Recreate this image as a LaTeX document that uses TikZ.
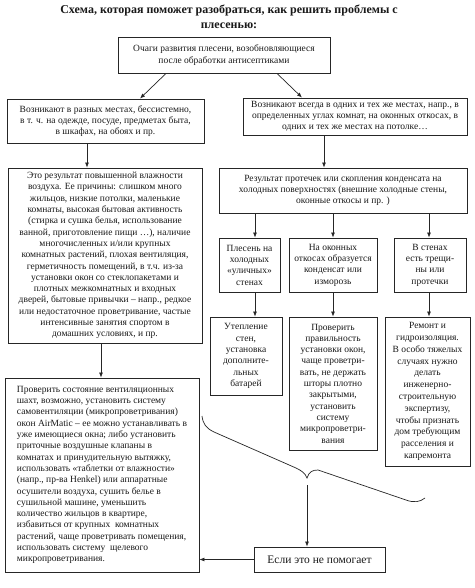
\documentclass[tikz,border=0pt]{standalone}
\usepackage{fontspec}
\setmainfont{Liberation Serif}
\usetikzlibrary{arrows.meta}
\begin{document}
\begin{tikzpicture}[x=1pt,y=-1pt,
    box/.style={draw=black!85,line width=0.9pt,align=center,inner sep=2pt,text=black!90,font=\fontsize{9.5}{11.3}\selectfont},
    arr/.style={draw=black!85,line width=0.7pt,-{Latex[length=5pt,width=4pt]}}]
    \useasboundingbox[fill=white] (0,0) rectangle (474,588);
    \node[font=\bfseries\fontsize{12}{14.5}\selectfont,align=center,text=black!90] (title) at (229,17) {Схема, которая поможет разобраться, как решить проблемы с\\плесенью:};
    \node[box,minimum width=212,minimum height=36] (ochagi) at (224,55) {Очаги развития плесени, возобновляющиеся\\после обработки антисептиками};
    \node[box,minimum width=197,minimum height=44] (raznye) at (105.5,121) {Возникают в разных местах, бессистемно,\\в т. ч. на одежде, посуде, предметах быта,\\в шкафах, на обоях и пр.};
    \node[box,minimum width=224,minimum height=37] (odni) at (355,116.5) {Возникают всегда в одних и тех же местах, напр., в\\определенных углах комнат, на оконных откосах, в\\одних и тех же местах на потолке…};
    \node[box,minimum width=194,minimum height=175] (vlazhnost) at (105,255.5) {Это результат повышенной влажности\\воздуха. Ее причины: слишком много\\жильцов, низкие потолки, маленькие\\комнаты, высокая бытовая активность\\(стирка и сушка белья, использование\\ванной, приготовление пищи …), наличие\\многочисленных и/или крупных\\комнатных растений, плохая вентиляция,\\герметичность помещений, в т.ч. из-за\\установки окон со стеклопакетами и\\плотных межкомнатных и входных\\дверей, бытовые привычки – напр., редкое\\или недостаточное проветривание, частые\\интенсивные занятия спортом в\\домашних условиях, и пр.};
    \node[box,align=left,minimum width=194,minimum height=194] (proverit) at (102,475) {Проверить состояние вентиляционных\\шахт, возможно, установить систему\\самовентиляции (микропроветривания)\\окон AirMatic – ее можно устанавливать в\\уже имеющиеся окна; либо установить\\приточные воздушные клапаны в\\комнатах и принудительную вытяжку,\\использовать «таблетки от влажности»\\(напр., пр-ва Henkel) или аппаратные\\осушители воздуха, сушить белье в\\сушильной машине, уменьшить\\количество жильцов в квартире,\\избавиться от крупных\ \ комнатных\\растений, чаще проветривать помещения,\\использовать систему\ \ щелевого\\микропроветривания.};
    \node[box,minimum width=248,minimum height=45] (protechki) at (343,190.5) {Результат протечек или скопления конденсата на\\холодных поверхностях (внешние холодные стены,\\оконные откосы и пр. )};
    \node[box,minimum width=61,minimum height=54] (steny) at (249.5,265) {Плесень на\\холодных\\«уличных»\\стенах};
    \node[box,minimum width=88,minimum height=54] (otkosy) at (333,265) {На оконных\\откосах образуется\\конденсат или\\изморозь};
    \node[box,minimum width=72,minimum height=54] (treshchiny) at (430,265) {В стенах\\есть трещи-\\ны или\\протечки};
    \node[box,minimum width=72,minimum height=78] (uteplenie) at (246,356) {Утепление\\стен,\\установка\\дополните-\\льных\\батарей};
    \node[box,minimum width=88,minimum height=133] (okna) at (333,383.5) {Проверить\\правильность\\установки окон,\\чаще проветри-\\вать, не держать\\шторы плотно\\закрытыми,\\установить\\систему\\микропроветри-\\вания};
    \node[box,minimum width=85,minimum height=149,font=\fontsize{9.5}{11.8}\selectfont] (remont) at (427.5,391.5) {Ремонт и\\гидроизоляция.\\В особо тяжелых\\случаях нужно\\делать\\инженерно-\\строительную\\экспертизу,\\чтобы признать\\дом требующим\\расселения и\\капремонта};
    \node[box,minimum width=131,minimum height=25,font=\fontsize{11.5}{13}\selectfont] (nepomogaet) at (319.5,559.5) {Если это не помогает};
    \coordinate (cL) at (87,0);
    \coordinate (cM) at (101,0);
    \coordinate (cR) at (324,0);
    \coordinate (cA) at (255,0);
    \coordinate (cB) at (333,0);
    \coordinate (cC) at (429,0);
    \coordinate (tip) at (307,485);
    \draw[arr] ([xshift=-58pt]ochagi.south) -- ([xshift=34.5pt]raznye.north);
    \draw[arr] ([xshift=53pt]ochagi.south) -- ([xshift=-53pt]odni.north);
    \draw[arr] (raznye.south -| cL) -- (vlazhnost.north -| cL);
    \draw[arr] (vlazhnost.south -| cM) -- (proverit.north -| cM);
    \draw[arr] (odni.south -| cR) -- (protechki.north -| cR);
    \draw[arr] (protechki.south -| cA) -- (steny.north -| cA);
    \draw[arr] (protechki.south -| cB) -- (otkosy.north -| cB);
    \draw[arr] (protechki.south -| cC) -- (treshchiny.north -| cC);
    \draw[arr] (steny.south -| cA) -- (uteplenie.north -| cA);
    \draw[arr] (otkosy.south -| cB) -- (okna.north -| cB);
    \draw[arr] (treshchiny.south -| cC) -- (remont.north -| cC);
    \draw[draw=black!85,line width=0.7pt] (202,416) .. controls (203,424) and (206,428) .. (214,432) -- (296,468) .. controls (302,471) and (305,473) .. (307,478) .. controls (309,472) and (312,470) .. (318,470) -- (406,500) .. controls (414,503) and (420,502) .. (425,498);
    \draw[arr] (tip) -- (nepomogaet.north -| tip);
    \draw[arr] (nepomogaet.west) -- (nepomogaet.west -| proverit.east);
\end{tikzpicture}
\end{document}
